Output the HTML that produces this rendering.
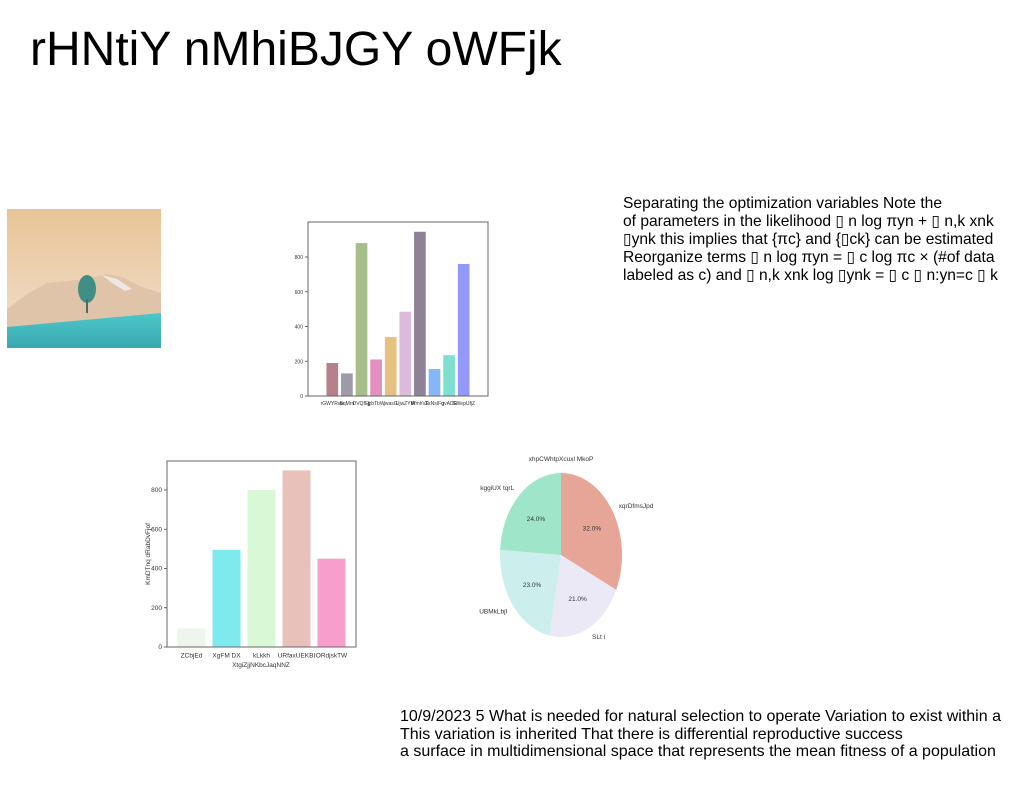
<!DOCTYPE html>
<html><head><meta charset="utf-8"><style>
body{margin:0;width:1024px;height:788px;background:#fff;position:relative;overflow:hidden;font-family:"Liberation Sans",sans-serif;}
.t{position:absolute;color:#000;}
svg text{font-family:"Liberation Sans",sans-serif;}
</style></head><body>
<div class="t" style="left:30px;top:22px;font-size:48px;line-height:56px;">rHNtiY nMhiBJGY oWFjk</div>

<svg style="position:absolute;left:7px;top:209px" width="154" height="139">
<defs><linearGradient id="sky" x1="0" y1="0" x2="0" y2="1"><stop offset="0" stop-color="#e8c496"/><stop offset="1" stop-color="#f2e0d0"/></linearGradient>
<linearGradient id="gr" x1="0" y1="0" x2="0" y2="1"><stop offset="0" stop-color="#4cc7c9"/><stop offset="1" stop-color="#3aa9b0"/></linearGradient></defs>
<rect width="154" height="139" fill="url(#sky)"/>
<polygon points="0,100 20,85 40,74 60,72 80,70 100,65 115,68 135,78 154,84 154,110 0,118" fill="#e0c4aa"/>
<polygon points="95,66 110,70 125,80 118,82 105,74" fill="#efe6e6"/>
<polygon points="0,118 154,104 154,139 0,139" fill="url(#gr)"/>
<ellipse cx="80" cy="80" rx="9" ry="14" fill="#3f8f86"/>
<rect x="79" y="90" width="2" height="14" fill="#566"/>
</svg>

<svg id="c1" style="position:absolute;left:0;top:0" width="1024" height="788"></svg>

<div class="t" style="left:623px;top:195px;font-size:15.6px;line-height:18px;">Separating the optimization variables Note the<br>of parameters in the likelihood ▯ n log πyn + ▯ n,k xnk<br>▯ynk this implies that {πc} and {▯ck} can be estimated<br>Reorganize terms ▯ n log πyn = ▯ c log πc × (#of data<br>labeled as c) and ▯ n,k xnk log ▯ynk = ▯ c ▯ n:yn=c ▯ k</div>

<div class="t" style="left:400px;top:708px;font-size:16px;line-height:17.5px;">10/9/2023 5 What is needed for natural selection to operate Variation to exist within a<br>This variation is inherited That there is differential reproductive success<br>a surface in multidimensional space that represents the mean fitness of a population</div>

<script>
const c1Cats=["rGWYRvw","BqMrn","DVQfEjj","jzbTbW","jwasG","UjwZYM","WmhVE","ZsNsIFq","gvADE","SWepUfjZ"];
const c1Vals=[190,130,880,210,340,485,945,155,235,760];
const c1Cols=["#b87f8c","#9f9aa8","#a8be8a","#e38fbf","#e6c282","#dbbadb","#8e8296","#86b6f9","#7fe0d2","#9399f8"];
const c1Ticks=[0,200,400,600,800];
const c2Cats=["ZCbjEd","XgFM DX","kLkkh","URfaxUEKBI","ORdjskTW"];
const c2Vals=[95,495,800,900,450];
const c2Cols=["#eef6ec","#7eeaee","#d9f9d6","#e8c2ba","#f79fcc"];
const c2Ticks=[0,200,400,600,800];
const pieLabels=["xqrDfmsJpd","SLt i","UBMkLbjl","kggiUX tqrL"];
const pieVals=[32,21,23,24];
const pieCols=["#e6a597","#ece9f6","#ccefee","#9fe5c9"];
const NS="http://www.w3.org/2000/svg";
const svg=document.getElementById('c1');
function mk(tag,a,p){const e=document.createElementNS(NS,tag);for(const k in a)e.setAttribute(k,a[k]);(p||svg).appendChild(e);return e;}
function bars(o){
  const g=mk('g',{});
  
  
  const y=v=>o.y0-(v/800)*o.k;
  const n=o.cats.length,pad=o.pad,bw=(o.x1-o.x0-2*pad)/n;
  o.ticks.forEach(t=>{
    const l=mk('line',{x1:o.x0-3,x2:o.x0,y1:y(t),y2:y(t),stroke:'#444','stroke-width':0.8},g);
    
    
    const tx=mk('text',{x:o.x0-5,y:y(t)+2,'font-size':o.fs,'text-anchor':'end',fill:'#333'},g);tx.textContent=t;
    
    
  });
  o.cats.forEach((c,i)=>{
    const x=o.x0+pad+i*bw+bw*0.1;
    const r=mk('rect',{x:x,y:y(o.vals[i]),width:bw*0.8,height:o.y0-y(o.vals[i]),fill:o.cols[i]},g);
    
    
    const tx=mk('text',{x:x+bw*0.4,y:o.y0+o.fs+4,'font-size':o.fs,'text-anchor':'middle',fill:'#333'},g);tx.textContent=c;
    
    
  });
  const b=mk('rect',{x:o.x0,y:o.top,width:o.x1-o.x0,height:o.y0-o.top,fill:'none',stroke:'#666','stroke-width':1},g);
  
  
  return g;
}
bars({name:'bar-chart-top',cats:c1Cats,vals:c1Vals,cols:c1Cols,ticks:c1Ticks,x0:308,x1:488,top:222,y0:396,k:139,pad:17,fs:5});
const g2=bars({name:'bar-chart-bottom',cats:c2Cats,vals:c2Vals,cols:c2Cols,ticks:c2Ticks,x0:167,x1:356,top:461,y0:647,k:157,pad:7,fs:6.5});
let t=mk('text',{x:261,y:667,'font-size':6.5,'text-anchor':'middle',fill:'#333'},g2);t.textContent='XtgiZjjNKbcJaqNNZ';


t=mk('text',{x:150,y:554,'font-size':6.5,'text-anchor':'middle',fill:'#333',transform:'rotate(-90 150 554)'},g2);t.textContent='KmDTnq dRabDvFjof';


const pg=mk('g',{});


const cx=561,cy=555,rx=61,ry=82;
t=mk('text',{x:561,y:461,'font-size':6.5,'text-anchor':'middle',fill:'#333'},pg);t.textContent='xhpCWhtpXcuxl MkoP';


const tot=pieVals.reduce((a,b)=>a+b,0);let a0=0;
pieVals.forEach((v,i)=>{
  const a1=a0+v/tot*2*Math.PI;
  const p=(a,r)=>[cx+rx*r*Math.sin(a),cy-ry*r*Math.cos(a)];
  const s=p(a0,1),e=p(a1,1);
  const path=mk('path',{d:`M${cx},${cy}L${s[0]},${s[1]}A${rx},${ry} 0 ${a1-a0>Math.PI?1:0} 1 ${e[0]},${e[1]}Z`,fill:pieCols[i]},pg);
  
  
  const m=(a0+a1)/2,pp=p(m,0.6),lp=p(m,1.12);
  let tx=mk('text',{x:pp[0],y:pp[1]+2,'font-size':6.5,'text-anchor':'middle',fill:'#333'},pg);tx.textContent=v.toFixed(1)+'%';
  
  
  tx=mk('text',{x:lp[0],y:lp[1]+2,'font-size':6.5,'text-anchor':Math.sin(m)>0?'start':'end',fill:'#333'},pg);tx.textContent=pieLabels[i];
  
  
  a0=a1;
});
</script>
</body></html>
